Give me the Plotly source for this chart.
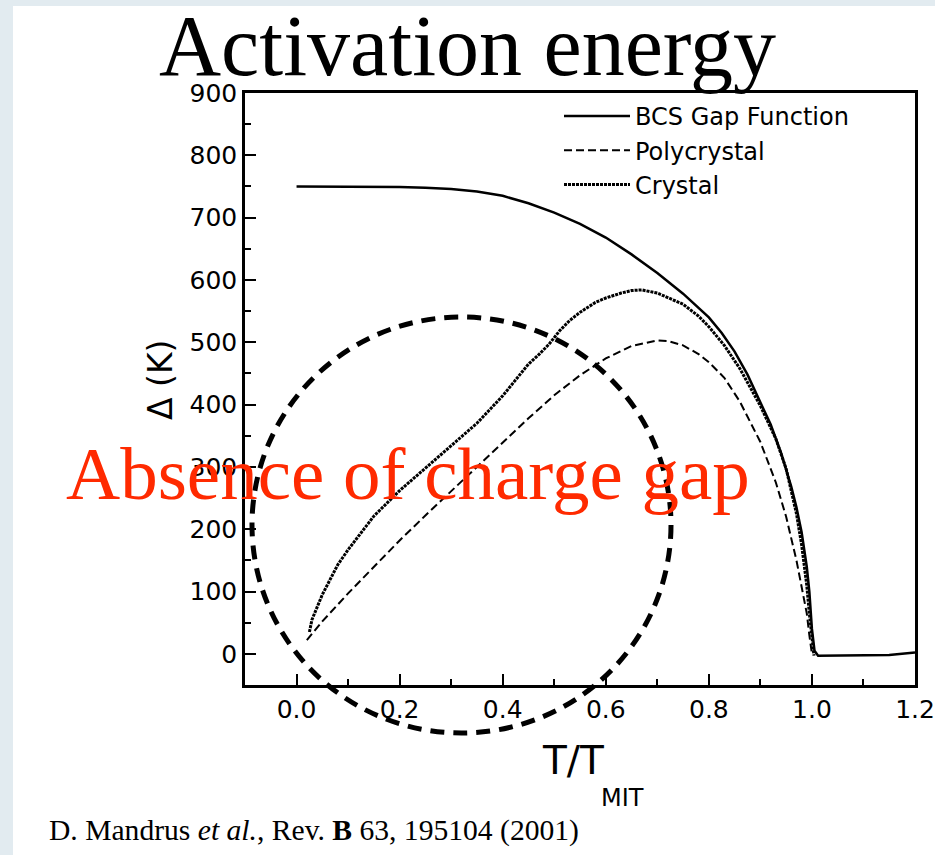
import plotly.graph_objects as go

# ---------------- data ----------------
bcs_x = [0.0, 0.05, 0.1, 0.15, 0.2, 0.25, 0.3, 0.35, 0.4, 0.45, 0.5, 0.55, 0.6, 0.65,
         0.7, 0.75, 0.8, 0.825, 0.85, 0.875, 0.9, 0.92, 0.94, 0.96, 0.97, 0.98, 0.99,
         0.995, 1.0, 1.005, 1.012, 1.05, 1.1, 1.15, 1.2]
bcs_y = [750, 750, 750, 750, 749, 748, 746, 742, 735, 723, 708, 690, 668, 641,
         611, 578, 540, 515, 485, 448, 405, 368, 323, 268, 235, 195, 140,
         100, 40, 5, -3, -3, -3, -2, 2]

poly_x = [0.02, 0.05, 0.1, 0.15, 0.2, 0.25, 0.3, 0.35, 0.4, 0.45, 0.5, 0.55, 0.6,
          0.65, 0.7, 0.72, 0.75, 0.78, 0.8, 0.83, 0.86, 0.9, 0.93, 0.95, 0.97, 0.98,
          0.99, 0.995, 1.0]
poly_y = [22, 52, 97, 140, 182, 222, 261, 300, 339, 378, 415, 447, 474,
          494, 503, 502, 495, 481, 468, 443, 405, 340, 275, 220, 150, 110,
          65, 30, 0]

cryst_x = [0.025, 0.03, 0.05, 0.08, 0.1, 0.15, 0.2, 0.25, 0.3, 0.35, 0.4, 0.43, 0.45,
           0.47, 0.49, 0.51, 0.53, 0.55, 0.58, 0.6, 0.63, 0.65, 0.67, 0.7, 0.75, 0.78,
           0.8, 0.83, 0.86, 0.9, 0.93, 0.95, 0.97, 0.98, 0.99, 0.995, 1.0, 1.004]
cryst_y = [35, 55, 95, 143, 167, 221, 262, 298, 334, 370, 414, 445, 465,
           480, 497, 518, 535, 548, 564, 571, 579, 583, 584, 579, 561, 542,
           525, 495, 458, 398, 345, 297, 225, 175, 110, 65, 20, -3]

series_names = ["BCS Gap Function", "Polycrystal", "Crystal"]
x_ticks = [0.0, 0.2, 0.4, 0.6, 0.8, 1.0, 1.2]
x_ticklabels = ["0.0", "0.2", "0.4", "0.6", "0.8", "1.0", "1.2"]
y_ticks = [0, 100, 200, 300, 400, 500, 600, 700, 800, 900]

title_text = "Activation energy"
overlay_text = "Absence of charge gap"
citation_text = "D. Mandrus <i>et al.</i>, Rev. <b>B</b> 63, 195104 (2001)"

# ---------------- layout helpers (target pixel -> paper) ----------------
W, H = 935, 855
ML, MR, MT, MB = 245, 20, 93, 170
PW, PH = W - ML - MR, H - MT - MB


def px(x):
    return (x - ML) / PW


def py(y):
    return (H - MB - y) / PH


fig = go.Figure()
fig.add_trace(go.Scatter(x=bcs_x, y=bcs_y, mode="lines", name=series_names[0],
                         line=dict(color="black", width=2.5)))
fig.add_trace(go.Scatter(x=poly_x, y=poly_y, mode="lines", name=series_names[1],
                         line=dict(color="black", width=2, dash="8px,4px")))
fig.add_trace(go.Scatter(x=cryst_x, y=cryst_y, mode="lines", name=series_names[2],
                         line=dict(color="black", width=3, dash="3px,1px")))

shapes = [
    # slide background white panel
    dict(type="rect", xref="paper", yref="paper", x0=px(13), x1=px(W + 30),
         y0=py(H + 5), y1=py(6), fillcolor="white", line=dict(width=0), layer="below"),
    # dashed ellipse annotation
    dict(type="circle", xref="paper", yref="paper", x0=px(252), x1=px(671),
         y0=py(733), y1=py(317), line=dict(color="black", width=5, dash="14px,9px"),
         layer="above"),
]

annotations = [
    dict(text=title_text, xref="paper", yref="paper", x=px(467), y=py(46),
         xanchor="center", yanchor="middle", showarrow=False,
         font=dict(family="Liberation Serif", size=86, color="black")),
    dict(text=overlay_text, xref="paper", yref="paper", x=px(408), y=py(473),
         xanchor="center", yanchor="middle", showarrow=False,
         font=dict(family="Liberation Serif", size=75, color="#ff2a00")),
    dict(text=citation_text, xref="paper", yref="paper", x=px(47), y=py(830),
         xanchor="left", yanchor="middle", showarrow=False,
         font=dict(family="Liberation Serif", size=29.6, color="black")),
    dict(text="Δ (K)", xref="paper", yref="paper", x=px(160), y=py(380),
         xanchor="center", yanchor="middle", showarrow=False, textangle=-90,
         font=dict(family="DejaVu Sans", size=33, color="black")),
    dict(text="T/T", xref="paper", yref="paper", x=px(606), y=py(760),
         xanchor="right", yanchor="middle", showarrow=False,
         font=dict(family="DejaVu Sans", size=39, color="black")),
    dict(text="MIT", xref="paper", yref="paper", x=px(599), y=py(798),
         xanchor="left", yanchor="middle", showarrow=False,
         font=dict(family="DejaVu Sans", size=24, color="black")),
]

fig.update_layout(
    width=W, height=H,
    margin=dict(l=ML, r=MR, t=MT, b=MB, pad=0, autoexpand=False),
    paper_bgcolor="#e2ebf0",
    plot_bgcolor="white",
    shapes=shapes,
    annotations=annotations,
    showlegend=True,
    legend=dict(x=px(559), y=py(94), xanchor="left", yanchor="top",
                bgcolor="rgba(0,0,0,0)", borderwidth=0, itemwidth=66,
                font=dict(family="DejaVu Sans", size=24, color="black"),
                tracegroupgap=0),
)

fig.update_xaxes(range=[-0.1, 1.2], tickmode="array", tickvals=x_ticks,
                 ticktext=x_ticklabels, ticks="inside", ticklen=11, tickwidth=2,
                 tickcolor="black", showline=True, linecolor="black", linewidth=2.5,
                 mirror=True, showgrid=False, zeroline=False, automargin=False,
                 ticklabeloverflow="allow",
                 tickfont=dict(family="DejaVu Sans", size=25, color="black"),
                 minor=dict(ticks="inside", ticklen=6, tickwidth=2, tickcolor="black",
                            dtick=0.1, tick0=0, showgrid=False))
fig.update_yaxes(range=[-50, 900], tickmode="array", tickvals=y_ticks,
                 ticks="inside", ticklen=11, tickwidth=2, tickcolor="black",
                 showline=True, linecolor="black", linewidth=2.5, mirror=True,
                 showgrid=False, zeroline=False, automargin=False,
                 ticklabeloverflow="allow",
                 tickfont=dict(family="DejaVu Sans", size=25, color="black"),
                 minor=dict(ticks="inside", ticklen=6, tickwidth=2, tickcolor="black",
                            dtick=50, tick0=0, showgrid=False))

fig.write_html("out.html")
